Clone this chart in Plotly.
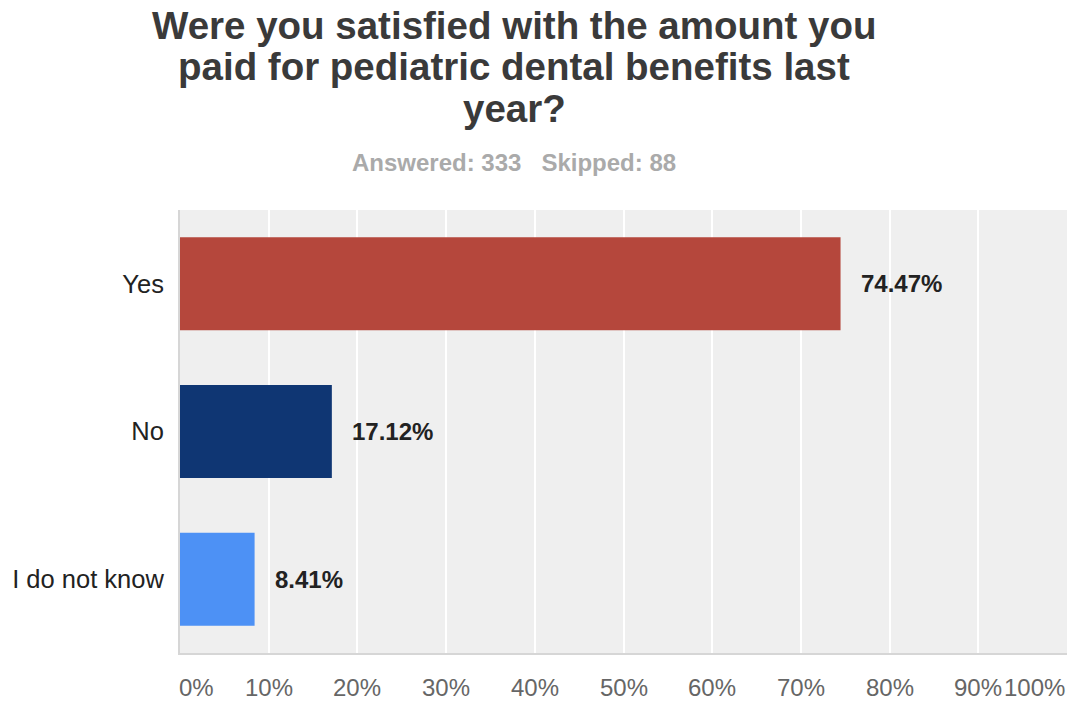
import plotly.graph_objects as go

# Survey data
categories = ["Yes", "No", "I do not know"]
percentages = [74.47, 17.12, 8.41]
bar_colors = ["#b5473c", "#0f3673", "#4d91f5"]
tick_values = [0, 10, 20, 30, 40, 50, 60, 70, 80, 90, 100]
tick_labels = ["0%", "10%", "20%", "30%", "40%", "50%", "60%", "70%", "80%", "90%", "100%"]
title_lines = [
    "Were you satisfied with the amount you",
    "paid for pediatric dental benefits last",
    "year?",
]
answered = 333
skipped = 88

FONT = "Liberation Sans, Arial, sans-serif"

# Plot area in pixels (used to convert header placement to paper coords)
W, H = 1073, 704
M_L, M_R, M_T, M_B = 180, 6, 210, 51
PLOT_W = W - M_L - M_R
PLOT_H = H - M_T - M_B


def paper_x(px):
    return (px - M_L) / PLOT_W


def paper_y(py):
    return (H - M_B - py) / PLOT_H


fig = go.Figure(
    go.Bar(
        x=percentages,
        y=categories,
        orientation="h",
        marker=dict(color=bar_colors, line=dict(width=0)),
        hoverinfo="skip",
    )
)

annotations = []

# Title, one annotation per line
for i, line in enumerate(title_lines):
    annotations.append(dict(
        x=paper_x(514), y=paper_y(25 + 41.5 * i), xref="paper", yref="paper",
        text=f"<b>{line}</b>", showarrow=False,
        xanchor="center", yanchor="middle",
        font=dict(family=FONT, size=38.5, color="#3a3a3a"),
    ))

# Response counts under the title
annotations.append(dict(
    x=paper_x(514), y=paper_y(162), xref="paper", yref="paper",
    text=f"<b>Answered: {answered}&nbsp;&nbsp;&nbsp;Skipped: {skipped}</b>",
    showarrow=False, xanchor="center", yanchor="middle",
    font=dict(family=FONT, size=24, color="#aaaaaa"),
))

# Percentage labels next to each bar
for cat, val in zip(categories, percentages):
    annotations.append(dict(
        x=val, y=cat, xref="x", yref="y",
        text=f"<b>{val:.2f}%</b>", showarrow=False,
        xanchor="left", yanchor="middle", xshift=18,
        font=dict(family=FONT, size=24, color="#222222"),
    ))

# X-axis labels (edge labels kept inside the plot width)
for v, lab in zip(tick_values, tick_labels):
    if v == tick_values[0]:
        anchor, shift = "left", -3
    elif v == tick_values[-1]:
        anchor, shift = "right", 0
    else:
        anchor, shift = "center", 0
    annotations.append(dict(
        x=v, y=0, xref="x", yref="paper",
        text=lab, showarrow=False,
        xanchor=anchor, yanchor="middle", xshift=shift, yshift=-34,
        font=dict(family=FONT, size=24, color="#666666"),
    ))

fig.update_layout(
    width=W,
    height=H,
    margin=dict(l=M_L, r=M_R, t=M_T, b=M_B),
    paper_bgcolor="white",
    plot_bgcolor="#efefef",
    bargap=0.37,
    showlegend=False,
    xaxis=dict(
        range=[0, 100],
        tickvals=tick_values,
        showticklabels=False,
        showgrid=True, gridcolor="white", gridwidth=2,
        zeroline=False,
        showline=True, linecolor="#d6d6d6", linewidth=2,
        fixedrange=True,
    ),
    yaxis=dict(
        autorange="reversed",
        showgrid=False,
        zeroline=False,
        showline=True, linecolor="#d6d6d6", linewidth=2,
        ticks="outside", ticklen=9, tickcolor="rgba(0,0,0,0)",
        tickfont=dict(family=FONT, size=25.5, color="#222222"),
        fixedrange=True,
    ),
    annotations=annotations,
)

fig.write_html("out.html")
